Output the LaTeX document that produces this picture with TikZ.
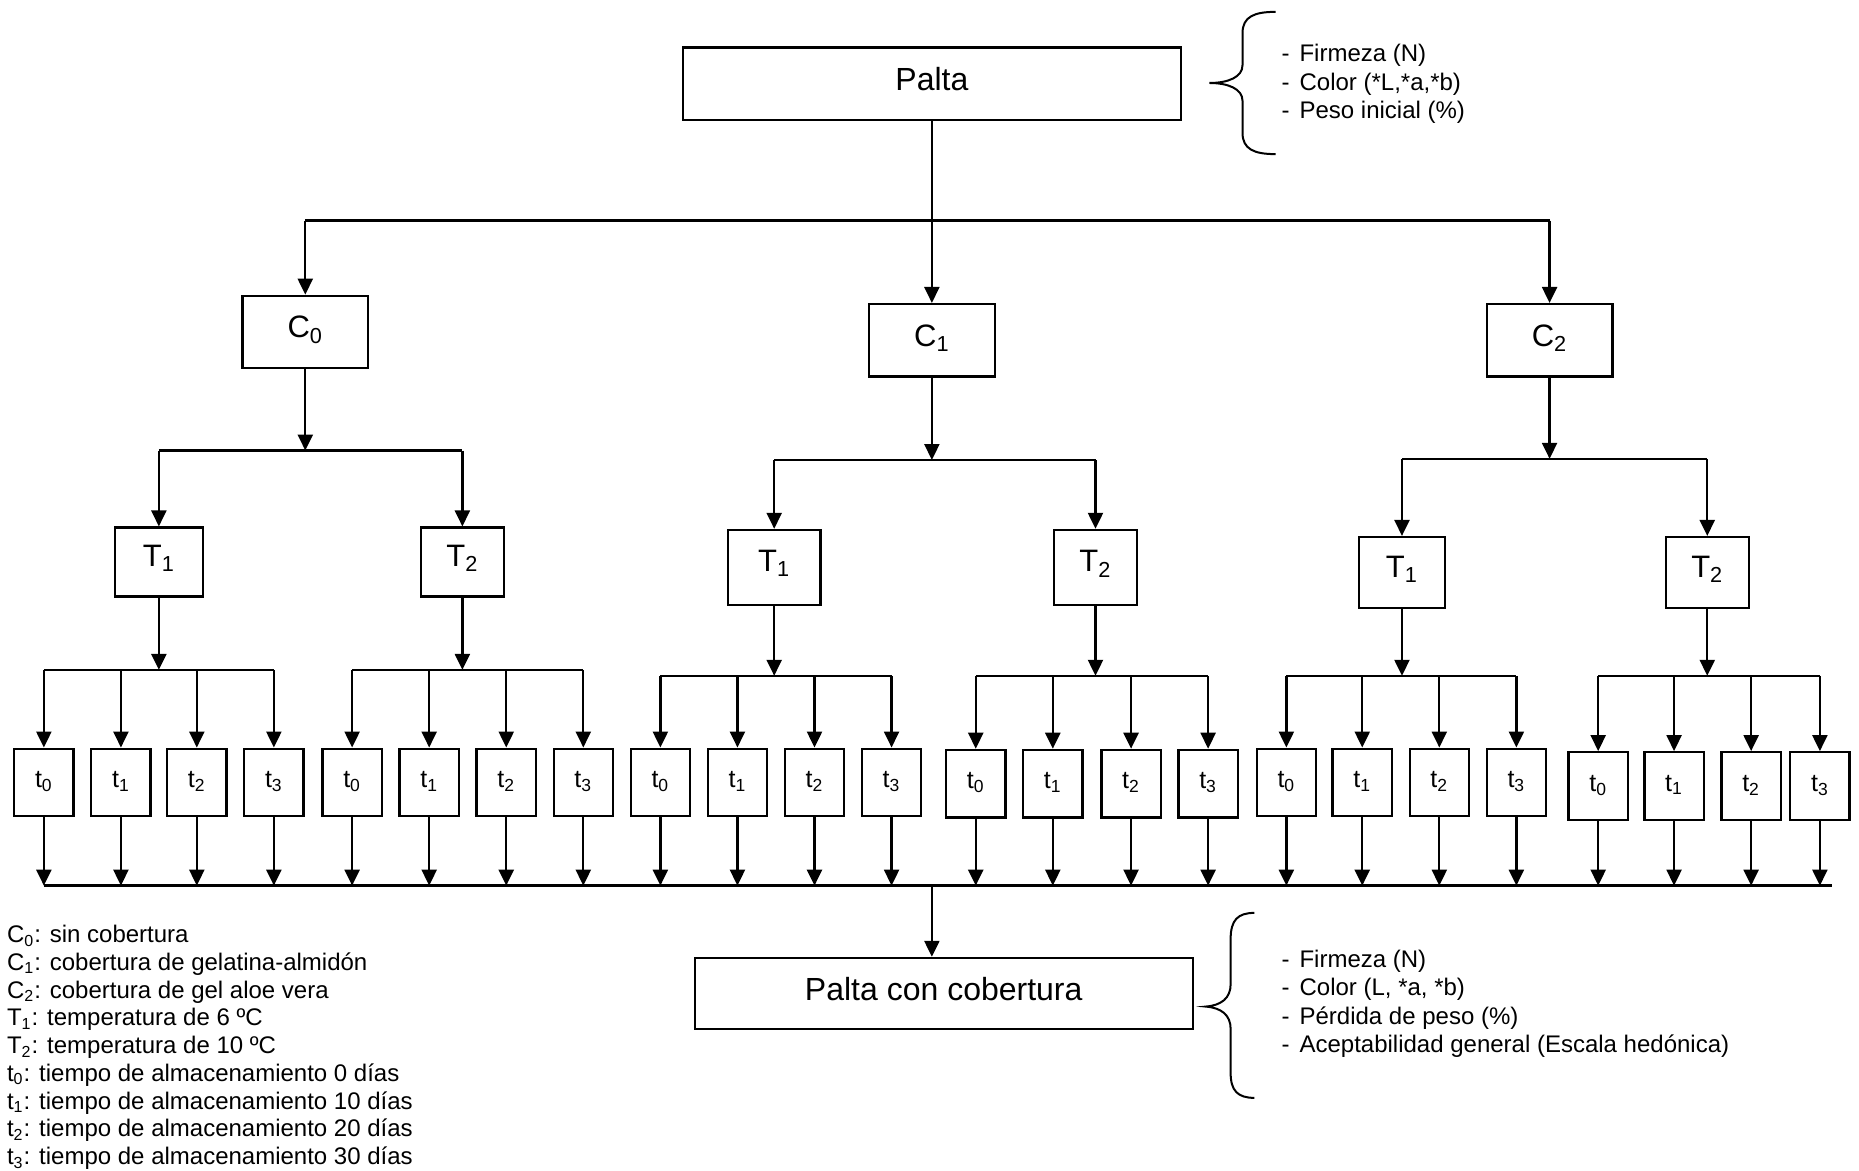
\documentclass[tikz,border=0pt]{standalone}
\usepackage{fontspec}
\setmainfont{Liberation Sans}
\usetikzlibrary{arrows.meta}
\def\pxu{0.5928pt}
\newcommand\liftup[2]{\raisebox{#1}{#2}}
\begin{document}
\begin{tikzpicture}[x=0.5928pt,y=-0.5928pt,line width=1.15pt,
  arr/.style={-{Triangle[length=8pt,width=7.5pt]}},
  box/.style={draw,line width=1.15pt,inner sep=0pt,anchor=center},
  bigbox/.style={box,minimum width=420*\pxu,minimum height=61*\pxu,font=\fontsize{16}{19}\selectfont},
  cbox/.style={box,minimum width=106*\pxu,minimum height=61*\pxu,font=\fontsize{15.5}{18}\selectfont},
  tbox/.style={box,font=\fontsize{15.5}{18}\selectfont},
  smallbox/.style={box,minimum width=50*\pxu,minimum height=57*\pxu,font=\fontsize{12.5}{15}\selectfont},
  txt/.style={inner sep=0pt,anchor=base west,font=\fontsize{12}{14}\selectfont},
  brace/.style={line width=1pt}]
\useasboundingbox (0,0) rectangle (1568,987);

% top level
\node[bigbox] (P) at (786,70.5) {\liftup{5pt}{Palta}};
\node[cbox] (C0) at (257.5,280) {\liftup{5pt}{C\textsubscript{0}}};
\node[cbox] (C1) at (786,287) {\liftup{5pt}{C\textsubscript{1}}};
\node[cbox] (C2) at (1307,287) {\liftup{5pt}{C\textsubscript{2}}};

\coordinate (jP) at (786,186);
\draw (P.south) -- (jP);
\draw (C0.north |- jP) -- (C2.north |- jP);
\foreach \c in {C0,C1,C2} \draw[arr] (\c.north |- jP) -- (\c.north);

% temperature boxes
\node[tbox,minimum width=74*\pxu,minimum height=58*\pxu] (T01) at (134,474) {\liftup{6pt}{T\textsubscript{1}}};
\node[tbox,minimum width=70*\pxu,minimum height=58*\pxu] (T02) at (390,474) {\liftup{6pt}{T\textsubscript{2}}};
\node[tbox,minimum width=78*\pxu,minimum height=63*\pxu] (T11) at (653,478.5) {\liftup{6pt}{T\textsubscript{1}}};
\node[tbox,minimum width=70*\pxu,minimum height=63*\pxu] (T12) at (924,478.5) {\liftup{6pt}{T\textsubscript{2}}};
\node[tbox,minimum width=73*\pxu,minimum height=60*\pxu] (T21) at (1182.5,483) {\liftup{6pt}{T\textsubscript{1}}};
\node[tbox,minimum width=70*\pxu,minimum height=60*\pxu] (T22) at (1440,483) {\liftup{6pt}{T\textsubscript{2}}};

\coordinate (jC0) at (257.5,380);
\coordinate (jC1) at (786,388);
\coordinate (jC2) at (1307,387);
\foreach \c/\l/\r in {C0/T01/T02,C1/T11/T12,C2/T21/T22}{
  \draw[arr] (\c) -- (j\c);
  \draw (\l.north |- j\c) -- (\r.north |- j\c);
  \draw[arr] (\l.north |- j\c) -- (\l.north);
  \draw[arr] (\r.north |- j\c) -- (\r.north);
}

% time boxes
\coordinate (jB) at (786,747);
\coordinate (jT01) at (134,565);
\coordinate (jT02) at (390,565);
\coordinate (jT11) at (653,570);
\coordinate (jT12) at (924,570);
\coordinate (jT21) at (1182.5,570);
\coordinate (jT22) at (1440,570);
\foreach \g/\a/\b/\c/\d/\yy in {T01/37/102/166/231/660,T02/297/362/427/492/660,
    T11/557/622/687/752/660,T12/823/888/954/1019/661,T21/1085/1149/1214/1279/660,
    T22/1348/1412/1477/1535/663}{
  \node[smallbox] (\g-0) at (\a,\yy) {\liftup{3pt}{t\textsubscript{0}}};
  \node[smallbox] (\g-1) at (\b,\yy) {\liftup{3pt}{t\textsubscript{1}}};
  \node[smallbox] (\g-2) at (\c,\yy) {\liftup{3pt}{t\textsubscript{2}}};
  \node[smallbox] (\g-3) at (\d,\yy) {\liftup{3pt}{t\textsubscript{3}}};
  \draw[arr] (\g) -- (j\g);
  \draw (\g-0.north |- j\g) -- (\g-3.north |- j\g);
  \foreach \k in {0,...,3}{
    \draw[arr] (\g-\k.north |- j\g) -- (\g-\k.north);
    \draw[arr] (\g-\k.south) -- (\g-\k.south |- jB);
  }
}
\coordinate (jE) at (1545,747);
\draw (T01-0.south |- jB) -- (jE);

% final box
\node[bigbox,minimum height=60*\pxu] (PC) at (796,838) {\liftup{5pt}{Palta con cobertura}};
\draw[arr] (jB) -- (jB |- PC.north);

% braces
\draw[brace] (1076,10) .. controls (1058,10) and (1048,14) .. (1048,28) -- (1048,55)
  .. controls (1048,65) and (1036,70) .. (1020,70)
  .. controls (1036,70) and (1048,75) .. (1048,85) -- (1048,112)
  .. controls (1048,126) and (1058,130) .. (1076,130);
\draw[brace] (1058,770) .. controls (1044,770) and (1038,776) .. (1038,792) -- (1038,830)
  .. controls (1038,842) and (1030,848) .. (1017,849)
  .. controls (1030,850) and (1038,856) .. (1038,868) -- (1038,905)
  .. controls (1038,920) and (1044,926) .. (1058,926);

% measurement lists
\node[txt] (m1) at (1080,52) {\makebox[9pt][l]{-}Firmeza (N)};
\node[txt] (m2) at (1080,76) {\makebox[9pt][l]{-}Color (*L,*a,*b)};
\node[txt] (m3) at (1080,100) {\makebox[9pt][l]{-}Peso inicial (\%)};

\node[txt] (n1) at (1080,816) {\makebox[9pt][l]{-}Firmeza (N)};
\node[txt] (n2) at (1080,840) {\makebox[9pt][l]{-}Color (L, *a, *b)};
\node[txt] (n3) at (1080,864) {\makebox[9pt][l]{-}Pérdida de peso (\%)};
\node[txt] (n4) at (1080,888) {\makebox[9pt][l]{-}Aceptabilidad general (Escala hedónica)};

% legend
\node[txt] (l1) at (5,795) {C\textsubscript{0}: sin cobertura};
\node[txt] (l2) at (5,818.4) {C\textsubscript{1}: cobertura de gelatina-almidón};
\node[txt] (l3) at (5,841.8) {C\textsubscript{2}: cobertura de gel aloe vera};
\node[txt] (l4) at (5,865.2) {T\textsubscript{1}: temperatura de 6 ºC};
\node[txt] (l5) at (5,888.6) {T\textsubscript{2}: temperatura de 10 ºC};
\node[txt] (l6) at (5,912) {t\textsubscript{0}: tiempo de almacenamiento 0 días};
\node[txt] (l7) at (5,935.4) {t\textsubscript{1}: tiempo de almacenamiento 10 días};
\node[txt] (l8) at (5,958.8) {t\textsubscript{2}: tiempo de almacenamiento 20 días};
\node[txt] (l9) at (5,982.2) {t\textsubscript{3}: tiempo de almacenamiento 30 días};
\end{tikzpicture}
\end{document}
